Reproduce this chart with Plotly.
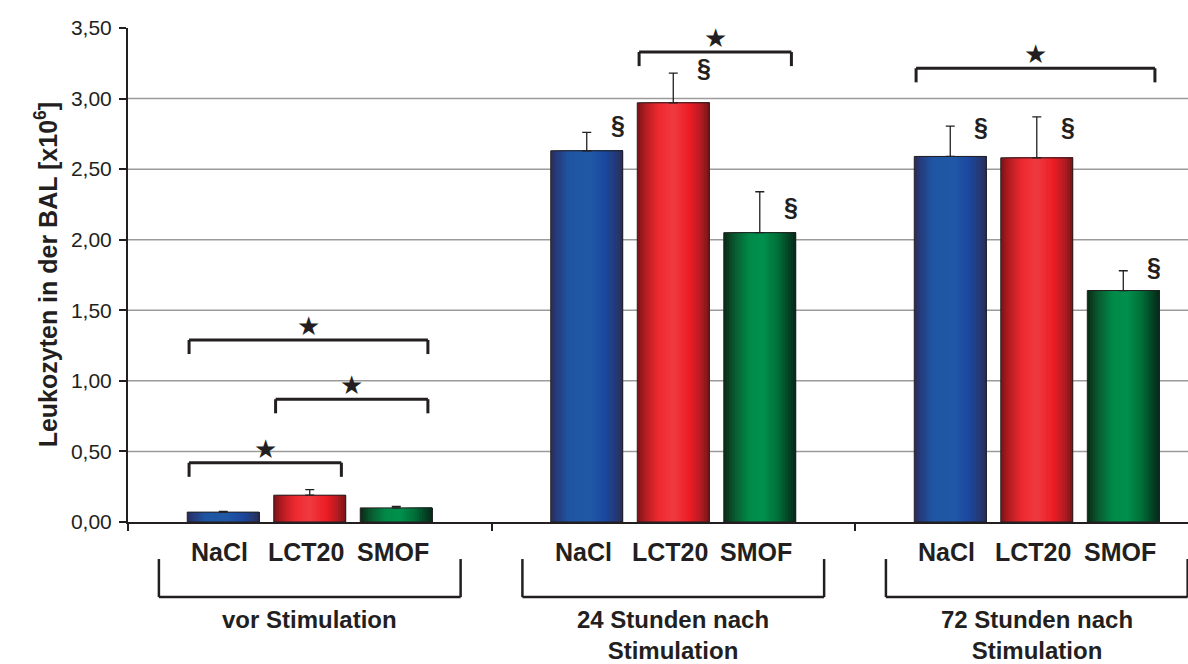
import plotly.graph_objects as go

# ---------------- data ----------------
groups = ["vor Stimulation", "24 Stunden nach<br>Stimulation", "72 Stunden nach<br>Stimulation"]
series = ["NaCl", "LCT20", "SMOF"]
nacl = [0.07, 2.63, 2.59]
lct20 = [0.19, 2.97, 2.58]
smof = [0.10, 2.05, 1.64]
err_nacl = [0.005, 0.13, 0.215]
err_lct20 = [0.04, 0.21, 0.29]
err_smof = [0.01, 0.29, 0.14]
# section marks (§) height per bar, None = no mark
sect_nacl = [None, 2.81, 2.80]
sect_lct20 = [None, 3.22, 2.80]
sect_smof = [None, 2.23, 1.81]
# significance brackets: (group index, from series, to series, level)
brackets = [(0, 0, 1, 0.42), (0, 1, 2, 0.87), (0, 0, 2, 1.29), (1, 1, 2, 3.33), (2, 0, 2, 3.215)]
y_ticks = [0, 0.5, 1.0, 1.5, 2.0, 2.5, 3.0, 3.5]

values = [nacl, lct20, smof]
errors = [err_nacl, err_lct20, err_smof]
sects = [sect_nacl, sect_lct20, sect_smof]

# ---------------- style ----------------
FONT = "Liberation Sans, Arial, sans-serif"
INK = "#231f20"
SLOT = 0.238      # distance between bar centres (category units)
BW = 0.198        # bar width (category units)
NSTRIP = 28

gradients = [
    [(0, "#2a2d5a"), (0.08, "#273a7a"), (0.25, "#1f56a3"), (0.55, "#2158a6"),
     (0.76, "#1a489f"), (0.9, "#253a78"), (1, "#282c58")],
    [(0, "#7a1416"), (0.12, "#b71d23"), (0.3, "#ee2a30"), (0.5, "#ef3b40"),
     (0.73, "#ed1c24"), (0.88, "#b51c22"), (1, "#761518")],
    [(0, "#092a16"), (0.15, "#0a5a30"), (0.35, "#008a48"), (0.55, "#00904d"),
     (0.75, "#00703a"), (0.9, "#044424"), (1, "#07281a")],
]


def hex2rgb(h):
    h = h.lstrip("#")
    return [int(h[i:i + 2], 16) for i in (0, 2, 4)]


def grad_color(stops, t):
    for (p0, c0), (p1, c1) in zip(stops[:-1], stops[1:]):
        if p0 <= t <= p1:
            f = (t - p0) / (p1 - p0) if p1 > p0 else 0
            a, b = hex2rgb(c0), hex2rgb(c1)
            r = [round(a[i] + (b[i] - a[i]) * f) for i in range(3)]
            return "rgb(%d,%d,%d)" % tuple(r)
    return stops[-1][1]


fig = go.Figure()

for si in range(3):
    centre = (si - 1) * SLOT
    left = centre - BW / 2
    for k in range(NSTRIP):
        t = (k + 0.5) / NSTRIP
        fig.add_trace(go.Bar(
            x=groups, y=values[si],
            offset=left + k * BW / NSTRIP, width=BW - k * BW / NSTRIP,
            marker=dict(color=grad_color(gradients[si], t), line=dict(width=0)),
            hoverinfo="skip", showlegend=False))
    # outline + error bars
    fig.add_trace(go.Bar(
        x=groups, y=values[si], name=series[si],
        offset=left, width=BW,
        marker=dict(color="rgba(0,0,0,0)", line=dict(color=INK, width=1)),
        error_y=dict(type="data", array=errors[si], arrayminus=[0] * len(groups),
                     symmetric=False, color=INK, thickness=1.3, width=4.5),
        showlegend=False))

shapes = []
annotations = []

# horizontal gridlines (no line at top)
for v in y_ticks[1:-1]:
    shapes.append(dict(type="line", xref="paper", x0=0, x1=1, yref="y", y0=v, y1=v,
                       line=dict(color="#9b9b9b", width=1.5), layer="below"))

# significance brackets above bars
LEG = 0.1
for g, a, b, lvl in brackets:
    x0 = g + (a - 1) * SLOT - BW / 2 + 0.005
    x1 = g + (b - 1) * SLOT + BW / 2 - 0.012
    for seg in [(x0, lvl, x1, lvl), (x0, lvl - LEG, x0, lvl), (x1, lvl - LEG, x1, lvl)]:
        shapes.append(dict(type="line", xref="x", yref="y", x0=seg[0], y0=seg[1],
                           x1=seg[2], y1=seg[3], line=dict(color=INK, width=3)))
    annotations.append(dict(xref="x", yref="y", x=(x0 + x1) / 2, y=lvl + 0.1,
                            text="★", showarrow=False, yanchor="middle",
                            font=dict(family="DejaVu Sans", size=26, color=INK)))

# section marks
for si in range(3):
    for g in range(len(groups)):
        if sects[si][g] is not None:
            annotations.append(dict(xref="x", yref="y", x=g + (si - 1) * SLOT + 0.085,
                                    y=sects[si][g], text="<b>§</b>", showarrow=False,
                                    font=dict(family=FONT, size=25, color=INK)))

# labels under axis
for g in range(len(groups)):
    for si in range(3):
        annotations.append(dict(xref="x", yref="paper", x=g + (si - 1) * SLOT - 0.01,
                                y=-0.061, text="<b>%s</b>" % series[si], showarrow=False,
                                yanchor="middle",
                                font=dict(family=FONT, size=25, color=INK)))
    bx0, bx1 = g - 0.415, g + 0.415
    for seg in [(bx0, -0.152, bx1, -0.152), (bx0, -0.075, bx0, -0.152), (bx1, -0.075, bx1, -0.152)]:
        shapes.append(dict(type="line", xref="x", yref="paper", x0=seg[0], y0=seg[1],
                           x1=seg[2], y1=seg[3], line=dict(color=INK, width=2.5)))
    annotations.append(dict(xref="x", yref="paper", x=g, y=-0.166, yanchor="top",
                            text="<b>%s</b>" % groups[g], showarrow=False,
                            font=dict(family=FONT, size=24, color=INK)))

# y axis title
annotations.append(dict(xref="paper", yref="paper", x=-0.094, y=0.5, textangle=-90,
                        text="<b>Leukozyten in der BAL [x10<sup>6</sup>]</b>", showarrow=False,
                        font=dict(family=FONT, size=25, color=INK)))

fig.update_layout(
    width=1188, height=664,
    margin=dict(l=128, r=0, t=28, b=142, autoexpand=False),
    plot_bgcolor="white", paper_bgcolor="white",
    barmode="overlay", separators=",.",
    font=dict(family=FONT, color=INK),
    shapes=shapes, annotations=annotations,
    xaxis=dict(type="category", categoryorder="array", categoryarray=groups,
               range=[-0.5, 2.416], showticklabels=False, ticks="outside",
               tickson="boundaries", ticklen=7, tickwidth=2, tickcolor=INK, automargin=False,
               showline=True, linecolor=INK, linewidth=2, showgrid=False, zeroline=False),
    yaxis=dict(range=[0, 3.5], tickvals=y_ticks, tickformat=".2f", ticks="outside",
               ticklen=7, tickwidth=2, tickcolor=INK, showline=True, linecolor=INK,
               linewidth=2, showgrid=False, zeroline=False, automargin=False,
               tickfont=dict(family=FONT, size=21, color=INK), ticklabelstandoff=3),
)

fig.write_html("out.html", config={"displayModeBar": False},
               post_script="document.body.style.margin='0px';document.body.style.overflow='hidden';")
